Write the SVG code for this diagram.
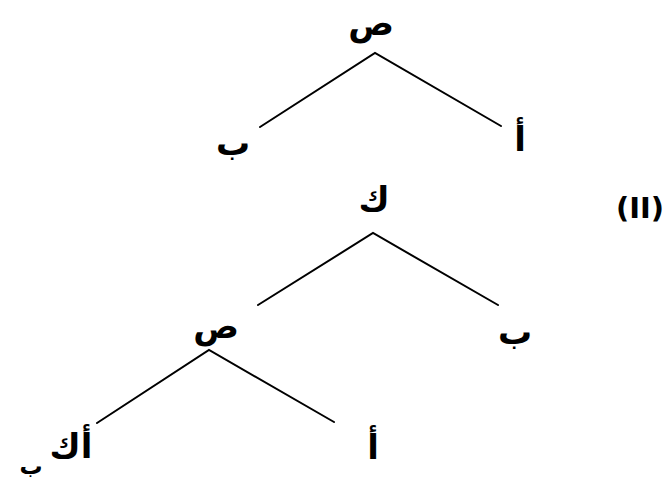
<svg xmlns="http://www.w3.org/2000/svg" width="667" height="485" viewBox="0 0 667 485">
<style>
.lbl{font-family:"DejaVu Sans",sans-serif;font-weight:bold;font-size:34px;fill:#000;text-anchor:middle}
.sm{font-size:23px}
.num{font-size:29px}
.edge{stroke:#000;stroke-width:2;fill:none;stroke-linecap:round}
</style>
<rect width="667" height="485" fill="#fff"/>
<g id="connectors">
<polyline class="edge" points="260,127 375,53 501,126"/>
<polyline class="edge" points="258,305 373,233 498,305"/>
<polyline class="edge" points="97,423 209,350 334,422"/>
</g>
<g id="n-top"><text class="lbl" x="371" y="35">ص</text></g>
<g id="n-top-left"><text class="lbl" x="233" y="155">ب</text></g>
<g id="n-top-right"><text class="lbl" x="520" y="151">أ</text></g>
<g id="n-k"><text class="lbl" x="374" y="211">ك</text></g>
<g id="label-ii"><text class="lbl num" x="640" y="218">(II)</text></g>
<g id="n-b2"><text class="lbl" x="515" y="344">ب</text></g>
<g id="n-s2"><text class="lbl" x="216" y="338">ص</text></g>
<g id="n-a2"><text class="lbl" x="373" y="459">أ</text></g>
<g id="n-ak"><text class="lbl" x="71" y="458">أك</text></g>
<g id="n-b3"><text class="lbl sm" x="31" y="474">ب</text></g>
</svg>
